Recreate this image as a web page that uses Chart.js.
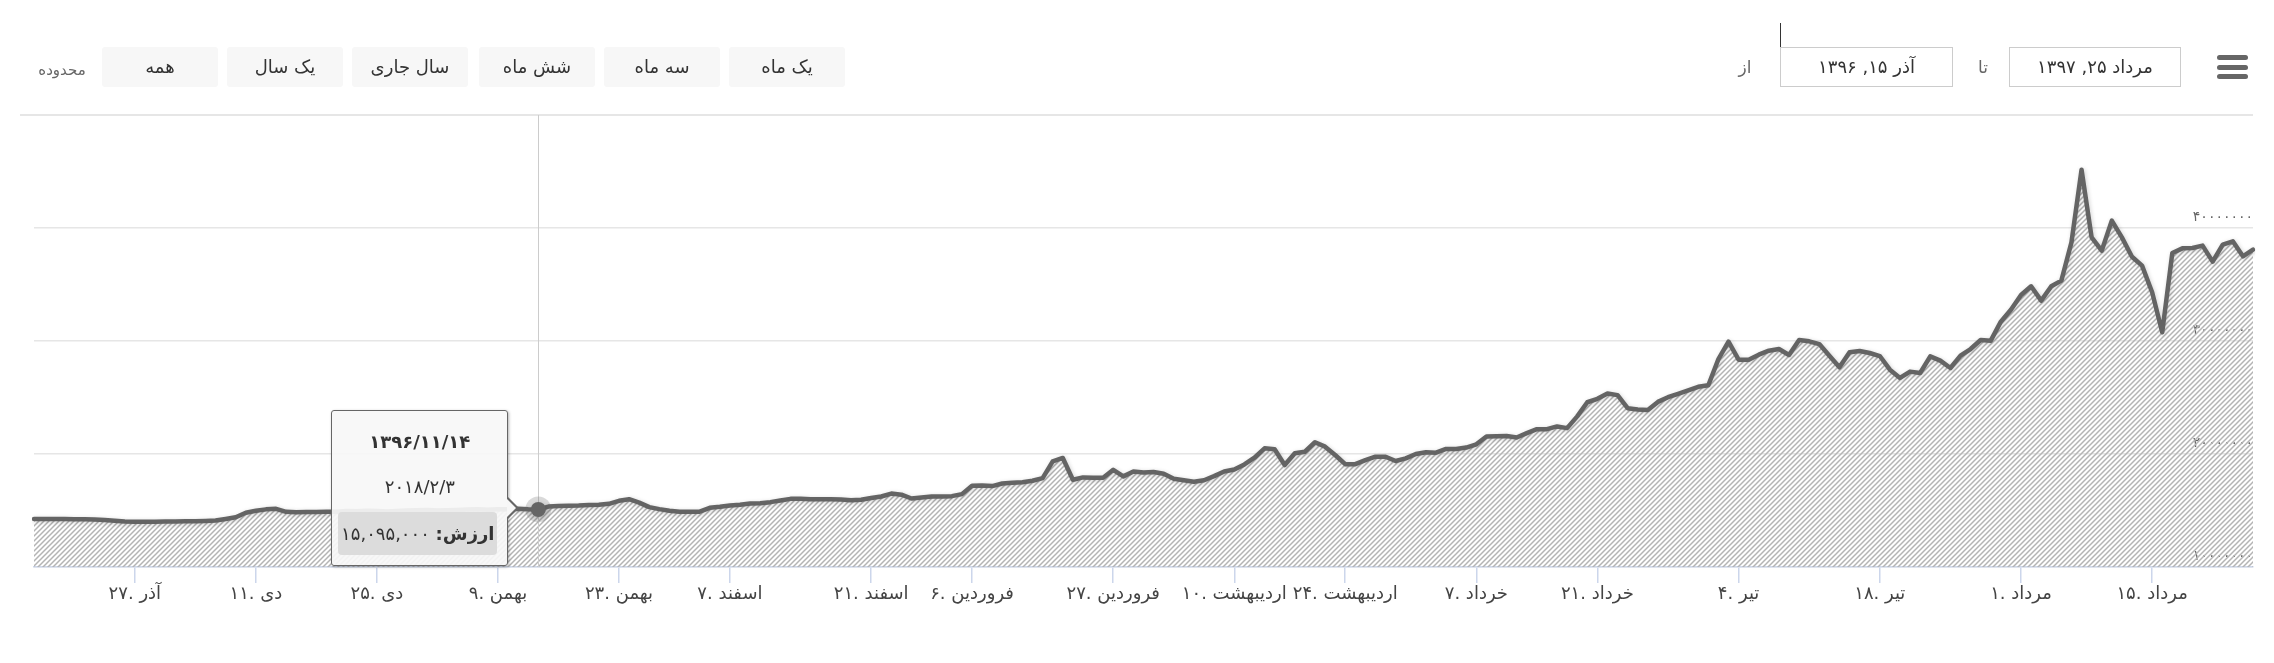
<!DOCTYPE html>
<html lang="fa">
<head>
<meta charset="utf-8">
<script src="https://cdn.jsdelivr.net/npm/chart.js@4.4.1/dist/chart.umd.min.js"></script>
<style>
  html, body { margin: 0; padding: 0; background: #fff; }
  body { width: 2274px; height: 663px; position: relative; overflow: hidden; font-family: 'DejaVu Sans', sans-serif; }
  #chart { position: absolute; left: 0; top: 0; }
  .btn { position: absolute; top: 47px; width: 116px; height: 40px; line-height: 40px; text-align: center;
         background: #f7f7f7; border-radius: 3px; font-size: 18px; color: #333; }
  .lbl { position: absolute; height: 24px; line-height: 24px; text-align: center; color: #666; }
  .inp { position: absolute; top: 47px; height: 40px; line-height: 37px; box-sizing: border-box; text-align: center;
         border: 1.5px solid #ccc; font-size: 18px; color: #333; background: #fff; }
  #caret { position: absolute; left: 1780px; top: 23px; width: 1px; height: 24px; background: #333; }
  .bar { position: absolute; left: 2217px; width: 31px; height: 5px; border-radius: 3px; background: #666; }
  #tip { position: absolute; width: 177px; height: 156px; box-sizing: border-box; border: 1.5px solid #666;
         border-radius: 3px; background: rgba(247,247,247,0.92); box-shadow: 1px 1px 3px rgba(0,0,0,0.3); color: #333; }
  #tip::before { content: ''; position: absolute; right: -12px; top: 86px; border-top: 11px solid transparent;
         border-bottom: 11px solid transparent; border-left: 11px solid #666; }
  #tip::after { content: ''; position: absolute; right: -9px; top: 88px; border-top: 9px solid transparent;
         border-bottom: 9px solid transparent; border-left: 9px solid #f7f7f7; }
  #tip .t1 { position: absolute; left: 0; right: 0; top: 20px; text-align: center; font-size: 18px; font-weight: bold; }
  #tip .t2 { position: absolute; left: 0; right: 0; top: 65px; text-align: center; font-size: 18px; }
  #tip .t3 { position: absolute; left: 6px; right: 10px; top: 101px; height: 43px; line-height: 43px; text-align: center;
         background: #dcdcdc; border-radius: 4px; font-size: 18px; }
</style>
</head>
<body>
<canvas id="chart" width="2274" height="663"></canvas>

<div class="lbl" style="left:26px;width:72px;top:58px;font-size:15px;">محدوده</div>
<div class="btn" style="left:102px;">همه</div>
<div class="btn" style="left:227px;">یک سال</div>
<div class="btn" style="left:352px;">سال جاری</div>
<div class="btn" style="left:479px;">شش ماه</div>
<div class="btn" style="left:604px;">سه ماه</div>
<div class="btn" style="left:729px;">یک ماه</div>

<div class="lbl" style="left:1728px;width:34px;top:55px;font-size:17px;">از</div>
<div class="inp" style="left:1780px;width:173px;">آذر ۱۵, ۱۳۹۶</div>
<div id="caret"></div>
<div class="lbl" style="left:1968px;width:30px;top:55px;font-size:17px;">تا</div>
<div class="inp" style="left:2009px;width:172px;">مرداد ۲۵, ۱۳۹۷</div>
<div class="bar" style="top:55px;"></div>
<div class="bar" style="top:64.5px;"></div>
<div class="bar" style="top:74px;"></div>

<div id="tip">
  <div class="t1" id="tipFa"></div>
  <div class="t2" id="tipEn"></div>
  <div class="t3" id="tipVal"></div>
</div>

<script>
// price per trading day (rial), 15 Azar 1396 .. 25 Mordad 1397
const prices = [
  14250000, 14250000, 14250000, 14240000, 14230000, 14220000, 14200000, 14150000, 14100000, 14020000,
  14000000, 14000000, 14000000, 14020000, 14030000, 14040000, 14050000, 14080000, 14120000, 14250000,
  14400000, 14800000, 14980000, 15100000, 15150000, 14880000, 14850000, 14860000, 14870000, 14900000,
  14900000, 14950000, 14930000, 14980000, 14950000, 14920000, 14960000, 15000000, 15020000, 15050000,
  15000000, 15020000, 15050000, 15080000, 15100000, 15060000, 15100000, 15120000, 15150000, 15100000,
  15095000, 15350000, 15400000, 15420000, 15440000, 15480000, 15500000, 15590000, 15860000, 16000000,
  15700000, 15300000, 15120000, 14970000, 14880000, 14880000, 14900000, 15240000, 15330000, 15440000,
  15500000, 15620000, 15650000, 15740000, 15890000, 16030000, 16030000, 16000000, 16000000, 16000000,
  15980000, 15900000, 15950000, 16100000, 16240000, 16500000, 16400000, 16060000, 16150000, 16240000,
  16240000, 16270000, 16450000, 17190000, 17220000, 17160000, 17390000, 17450000, 17500000, 17630000,
  17870000, 19350000, 19650000, 17720000, 17930000, 17900000, 17900000, 18600000, 18020000, 18460000,
  18370000, 18400000, 18250000, 17810000, 17670000, 17550000, 17680000, 18040000, 18450000, 18630000,
  19080000, 19670000, 20500000, 20420000, 19020000, 20060000, 20200000, 21040000, 20650000, 19910000,
  19100000, 19100000, 19460000, 19760000, 19760000, 19380000, 19610000, 20000000, 20150000, 20120000,
  20450000, 20450000, 20570000, 20860000, 21550000, 21580000, 21600000, 21460000, 21850000, 22200000,
  22200000, 22440000, 22290000, 23330000, 24580000, 24880000, 25360000, 25210000, 24050000, 23930000,
  23900000, 24610000, 25030000, 25330000, 25630000, 25950000, 26080000, 28400000, 29940000, 28350000,
  28350000, 28790000, 29140000, 29290000, 28760000, 30090000, 29970000, 29730000, 28700000, 27670000,
  29000000, 29120000, 28940000, 28670000, 27460000, 26730000, 27290000, 27170000, 28640000, 28260000,
  27610000, 28700000, 29290000, 30090000, 30030000, 31710000, 32770000, 34070000, 34840000, 33570000,
  34840000, 35340000, 38730000, 45160000, 39170000, 37990000, 40650000, 39170000, 37460000, 36670000,
  34310000, 30770000, 37790000, 38200000, 38230000, 38440000, 37020000, 38530000, 38820000, 37490000,
  38080000
];

// x axis: which point carries a date label
const xTickIndex = [10, 22, 34, 46, 58, 69, 83, 93, 107, 119, 130, 143, 155, 169, 183, 197, 210];
const xTickLabels = [
  '۲۷. آذر', '۱۱. دی', '۲۵. دی', '۹. بهمن', '۲۳. بهمن', '۷. اسفند', '۲۱. اسفند', '۶. فروردین',
  '۲۷. فروردین', '۱۰. اردیبهشت', '۲۴. اردیبهشت', '۷. خرداد', '۲۱. خرداد', '۴. تیر', '۱۸. تیر',
  '۱. مرداد', '۱۵. مرداد'
];

const yTickValues = [10000000, 20000000, 30000000, 40000000, 50000000];
const yTickLabels = ['۱۰۰۰۰۰۰۰', '۲۰۰۰۰۰۰۰', '۳۰۰۰۰۰۰۰', '۴۰۰۰۰۰۰۰', ''];

// hovered point
const tipIndex = 50;
const tipDateFa = '۱۳۹۶/۱۱/۱۴';
const tipDateEn = '۲۰۱۸/۲/۳';

const faDigits = s => String(s).replace(/\d/g, d => '۰۱۲۳۴۵۶۷۸۹'[d]);

function hatch() {
  const c = document.createElement('canvas');
  c.width = 5; c.height = 5;
  const g = c.getContext('2d');
  g.strokeStyle = '#b4b4b4';
  g.lineWidth = 1.5;
  g.beginPath();
  g.moveTo(0, 5); g.lineTo(5, 0);
  g.moveTo(-1, 1); g.lineTo(1, -1);
  g.moveTo(4, 6); g.lineTo(6, 4);
  g.stroke();
  return g.createPattern(c, 'repeat');
}

const FONT = "'DejaVu Sans', sans-serif";
Chart.defaults.font.family = FONT;

const yRange = { min: 10000000, max: 50000000 };
const setYTicks = s => { s.ticks = yTickValues.map(v => ({ value: v })); };
const flatY = s => { s.width = 0; s.paddingTop = 0; s.paddingBottom = 0; };

const hoverPlugin = {
  id: 'hover',
  beforeDraw(chart) {
    // separator line above the plot, a little wider than the plot
    const { ctx, chartArea } = chart;
    ctx.save();
    ctx.strokeStyle = '#e6e6e6';
    ctx.lineWidth = 2;
    ctx.beginPath();
    ctx.moveTo(20, chartArea.top);
    ctx.lineTo(chartArea.right, chartArea.top);
    ctx.stroke();
    ctx.restore();
  },
  beforeDatasetDraw(chart) {
    const { ctx, chartArea, scales } = chart;
    const x = Math.round(scales.x.getPixelForValue(tipIndex)) + 0.5;
    ctx.save();
    ctx.strokeStyle = '#cccccc';
    ctx.lineWidth = 1;
    ctx.beginPath();
    ctx.moveTo(x, chartArea.top);
    ctx.lineTo(x, chartArea.bottom);
    ctx.stroke();
    ctx.restore();
    ctx.save();
    ctx.shadowColor = 'rgba(0,0,0,0.18)';
    ctx.shadowBlur = 4;
    ctx.shadowOffsetX = 1;
    ctx.shadowOffsetY = 1;
  },
  afterDatasetDraw(chart) {
    chart.ctx.restore();
  },
  afterDatasetsDraw(chart) {
    const { ctx, scales } = chart;
    const x = scales.x.getPixelForValue(tipIndex);
    const y = scales.y.getPixelForValue(prices[tipIndex]);
    ctx.save();
    ctx.fillStyle = 'rgba(102,102,102,0.25)';
    ctx.beginPath();
    ctx.arc(x, y, 13, 0, Math.PI * 2);
    ctx.fill();
    ctx.restore();
    const tip = document.getElementById('tip');
    tip.style.left = (x - 207) + 'px';
    tip.style.top = (y - 99) + 'px';
  }
};

new Chart(document.getElementById('chart').getContext('2d'), {
  type: 'line',
  data: {
    labels: prices.map((_, i) => i),
    datasets: [{
      data: prices,
      borderColor: '#646464',
      borderWidth: 4.5,
      borderJoinStyle: 'round',
      borderCapStyle: 'round',
      backgroundColor: hatch(),
      fill: 'start',
      tension: 0,
      pointRadius: c => (c.dataIndex === tipIndex ? 7.5 : 0),
      pointBackgroundColor: '#646464',
      pointBorderWidth: 0
    }]
  },
  options: {
    responsive: false,
    animation: false,
    events: [],
    layout: { padding: { top: 115, left: 34, right: 21, bottom: 36 } },
    plugins: { legend: { display: false }, tooltip: { enabled: false } },
    scales: {
      x: {
        type: 'category',
        offset: false,
        grid: { drawOnChartArea: false, color: '#ccd6eb', tickLength: 16, lineWidth: 1.5 },
        border: { color: '#ccd6eb', width: 1.5 },
        ticks: {
          autoSkip: false, maxRotation: 0, minRotation: 0, padding: 1,
          color: '#444', font: { size: 18 },
          callback: (v, i) => {
            const k = xTickIndex.indexOf(i);
            return k < 0 ? null : xTickLabels[k];
          }
        },
        afterFit: s => { s.height = 60; s.paddingLeft = 0; s.paddingRight = 0; }
      },
      // grid lines, under the series
      y: {
        position: 'right',
        ...yRange,
        afterBuildTicks: setYTicks,
        afterFit: flatY,
        grid: { color: '#e6e6e6', drawTicks: false, lineWidth: c => (c.tick && c.tick.value === 50000000 ? 0 : 1.5) },
        border: { display: false },
        ticks: { display: false }
      },
      // value labels, drawn over the series
      yLabels: {
        axis: 'y',
        position: 'right',
        z: 1,
        ...yRange,
        afterBuildTicks: setYTicks,
        afterFit: flatY,
        grid: { display: false },
        border: { display: false },
        ticks: {
          mirror: true, padding: 0, labelOffset: -11,
          color: '#666', font: { size: 14 },
          callback: v => { const k = yTickValues.indexOf(v); return k < 0 ? '' : yTickLabels[k]; }
        }
      }
    }
  },
  plugins: [hoverPlugin]
});

document.getElementById('tipFa').textContent = tipDateFa;
document.getElementById('tipEn').textContent = tipDateEn;
document.getElementById('tipVal').innerHTML = '<b>ارزش:</b> ' + faDigits(prices[tipIndex].toLocaleString('en-US'));
</script>
</body>
</html>
